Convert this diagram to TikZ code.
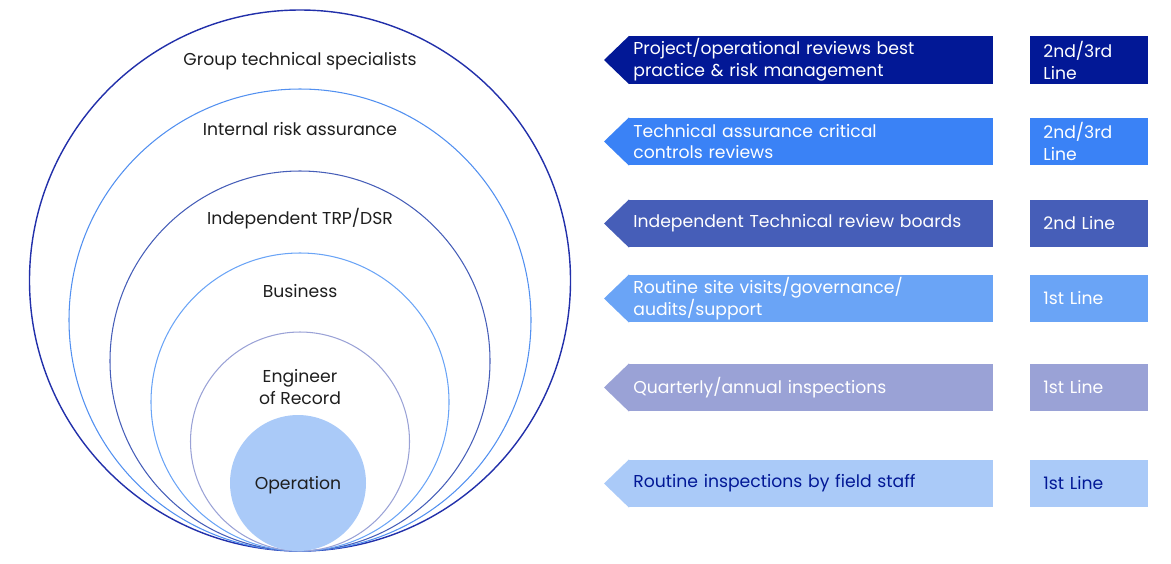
\documentclass[tikz,border=0pt]{standalone}
\usepackage{fontspec}
\setmainfont{Poppins}
\usetikzlibrary{positioning}

\definecolor{navy}{RGB}{2,24,150}
\definecolor{ringnavy}{RGB}{34,48,170}
\definecolor{brightblue}{RGB}{58,130,246}
\definecolor{ringblue}{RGB}{82,144,240}
\definecolor{indigo}{RGB}{70,94,184}
\definecolor{skyblue}{RGB}{106,164,246}
\definecolor{lavender}{RGB}{154,162,214}
\definecolor{paleblue}{RGB}{170,202,248}
\definecolor{ink}{RGB}{30,30,30}

\tikzset{
  ring/.style={line width=0.6pt},
  ringlabel/.style={font=\fontsize{9.8}{12.5}\selectfont, text=ink, align=center, inner sep=0pt},
  actionbox/.style={rectangle, anchor=west, minimum width=72.8mm, minimum height=9.5mm,
    text width=71.2mm, inner xsep=0.8mm, inner ysep=0pt, align=left,
    font=\fontsize{9.8}{12.5}\selectfont, text=white},
  linebox/.style={rectangle, anchor=west, minimum width=23.6mm, minimum height=9.5mm,
    text width=18.4mm, inner xsep=2.6mm, inner ysep=0pt, align=left,
    font=\fontsize{9.8}{12.5}\selectfont, text=white}
}
\newcommand\arrowtip[2]{\fill[#2] (#1.north west) -- ([xshift=-5mm]#1.west) -- (#1.south west) -- cycle;}

\begin{document}
\begin{tikzpicture}[x=0.2mm,y=-0.2mm]
\useasboundingbox (0,0) rectangle (1171,563);
% ---------- rings ----------
\draw[ring,ringnavy,line width=0.8pt] (300,280.5) circle[radius=270.5];
\draw[ring,ringblue] (300,320) circle[radius=231];
\draw[ring,indigo] (300,361) circle[radius=190];
\draw[ring,skyblue] (300,402) circle[radius=149];
\draw[ring,lavender] (300,441.5) circle[radius=109.5];
\fill[paleblue] (298,483) circle[radius=68];
\node[ringlabel] (group) at (300,61) {Group technical specialists};
\node[ringlabel] (internal) at (300,129) {Internal risk assurance};
\node[ringlabel] (indep) at (300,219) {Independent TRP/DSR};
\node[ringlabel] (business) at (300,291) {Business};
\node[ringlabel] (eor) at (300,387) {Engineer\\of Record};
\node[ringlabel] (operation) at (298,485) {Operation};
% ---------- review arrows ----------
\node[actionbox,fill=navy] (act1) at (629,60) {Project/operational reviews best\\practice \& risk management};
\arrowtip{act1}{navy}
\node[actionbox,fill=brightblue] (act2) at (629,141.5) {Technical assurance critical\\controls reviews};
\arrowtip{act2}{brightblue}
\node[actionbox,fill=indigo] (act3) at (629,223.5) {Independent Technical review boards};
\arrowtip{act3}{indigo}
\node[actionbox,fill=skyblue] (act4) at (629,298.5) {Routine site visits/governance/\\audits/support};
\arrowtip{act4}{skyblue}
\node[actionbox,fill=lavender] (act5) at (629,387.5) {Quarterly/annual inspections};
\arrowtip{act5}{lavender}
\node[actionbox,fill=paleblue,text=navy] (act6) at (629,483.5) {Routine inspections by field staff};
\arrowtip{act6}{paleblue}
% ---------- lines of defence ----------
\node[linebox,fill=navy] (line1) at (1030,60) {2nd/3rd\\Line};
\node[linebox,fill=brightblue] (line2) at (1030,141.5) {2nd/3rd\\Line};
\node[linebox,fill=indigo] (line3) at (1030,223.5) {2nd Line};
\node[linebox,fill=skyblue] (line4) at (1030,298.5) {1st Line};
\node[linebox,fill=lavender] (line5) at (1030,387.5) {1st Line};
\node[linebox,fill=paleblue,text=navy] (line6) at (1030,483.5) {1st Line};
\end{tikzpicture}
\end{document}
